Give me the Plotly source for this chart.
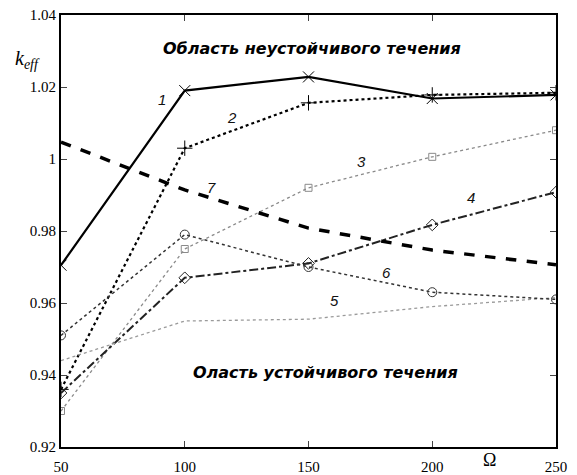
import plotly.graph_objects as go

omega = [50, 100, 150, 200, 250]
k1 = [0.9705, 1.0190, 1.0228, 1.0168, 1.0178]
k2 = [0.9360, 1.0030, 1.0156, 1.0178, 1.0184]
k3 = [0.9300, 0.9750, 0.9920, 1.0006, 1.0080]
k4 = [0.9350, 0.9670, 0.9710, 0.9817, 0.9908]
k5 = [0.9440, 0.9550, 0.9555, 0.9590, 0.9615]
k6 = [0.9510, 0.9790, 0.9700, 0.9630, 0.9610]
k7 = [1.0047, 0.9914, 0.9808, 0.9747, 0.9706]

series_labels = ["1", "2", "3", "4", "5", "6", "7"]
label_pos = [(91, 1.0166), (119, 1.0114), (171.5, 0.9992), (215.5, 0.9894),
             (160.5, 0.9608), (181.5, 0.9686), (111, 0.9922)]
x_ticks = [50, 100, 150, 200, 250]
y_ticks = [0.92, 0.94, 0.96, 0.98, 1.00, 1.02, 1.04]
y_tick_text = ["0.92", "0.94", "0.96", "0.98", "1", "1.02", "1.04"]

fig = go.Figure()

def add(y, color, width, dash, symbol, msize=9):
    fig.add_trace(go.Scatter(
        x=omega, y=y, mode="lines+markers" if symbol else "lines",
        line=dict(color=color, width=width, dash=dash),
        marker=dict(symbol=symbol or "circle", size=msize, color=color,
                    line=dict(color=color, width=1)),
        showlegend=False))

add(k1, "#000000", 2.2, "solid", "x-thin-open", 11)
add(k2, "#000000", 2.2, "dot", "cross-thin-open", 11)
add(k3, "#8a8a8a", 1.3, "dot", "square-open", 7)
add(k4, "#222222", 2.0, "dashdot", "diamond-open", 9)
add(k5, "#9a9a9a", 1.3, "dot", None)
add(k6, "#333333", 1.5, "dot", "circle-open", 9)
add(k7, "#000000", 3.5, "dash", None)

for (lx, ly), t in zip(label_pos, series_labels):
    fig.add_annotation(x=lx, y=ly, text="<i>" + t + "</i>", showarrow=False,
                       font=dict(family="Liberation Sans", size=15, color="#111111"))

fig.add_annotation(x=151.5, y=1.0306, text="<b><i>Область неустойчивого течения</i></b>",
                   showarrow=False, font=dict(family="DejaVu Sans", size=16, color="#000"))
fig.add_annotation(x=157, y=0.9408, text="<b><i>Оласть устойчивого течения</i></b>",
                   showarrow=False, font=dict(family="DejaVu Sans", size=16, color="#000"))
fig.add_annotation(xref="paper", yref="paper", x=-0.067, y=0.93,
                   text="<i>k<sub>eff</sub></i>", showarrow=False, xanchor="center",
                   font=dict(family="Liberation Serif", size=20, color="#000"))
fig.add_annotation(xref="paper", yref="paper", x=0.883, y=-0.031, yanchor="middle",
                   text="Ω", showarrow=False,
                   font=dict(family="Liberation Serif", size=18, color="#000"))

fig.update_xaxes(range=[50, 250], tickvals=x_ticks, ticks="inside", ticklen=6,
                 showline=True, linecolor="#000", linewidth=2, mirror="ticks",
                 showgrid=False, zeroline=False, ticklabelstandoff=5, automargin=False,
                 tickfont=dict(family="Liberation Serif", size=15, color="#000"))
fig.update_yaxes(range=[0.92, 1.04], tickvals=y_ticks, ticktext=y_tick_text,
                 ticks="inside", ticklen=6, automargin=False,
                 showline=True, linecolor="#000", linewidth=2, mirror="ticks",
                 showgrid=False, zeroline=False,
                 tickfont=dict(family="Liberation Serif", size=15, color="#000"))

fig.update_layout(width=577, height=475, margin=dict(l=61, r=21, t=15, b=28),
                  plot_bgcolor="white", paper_bgcolor="white")

fig.write_html("out.html")
